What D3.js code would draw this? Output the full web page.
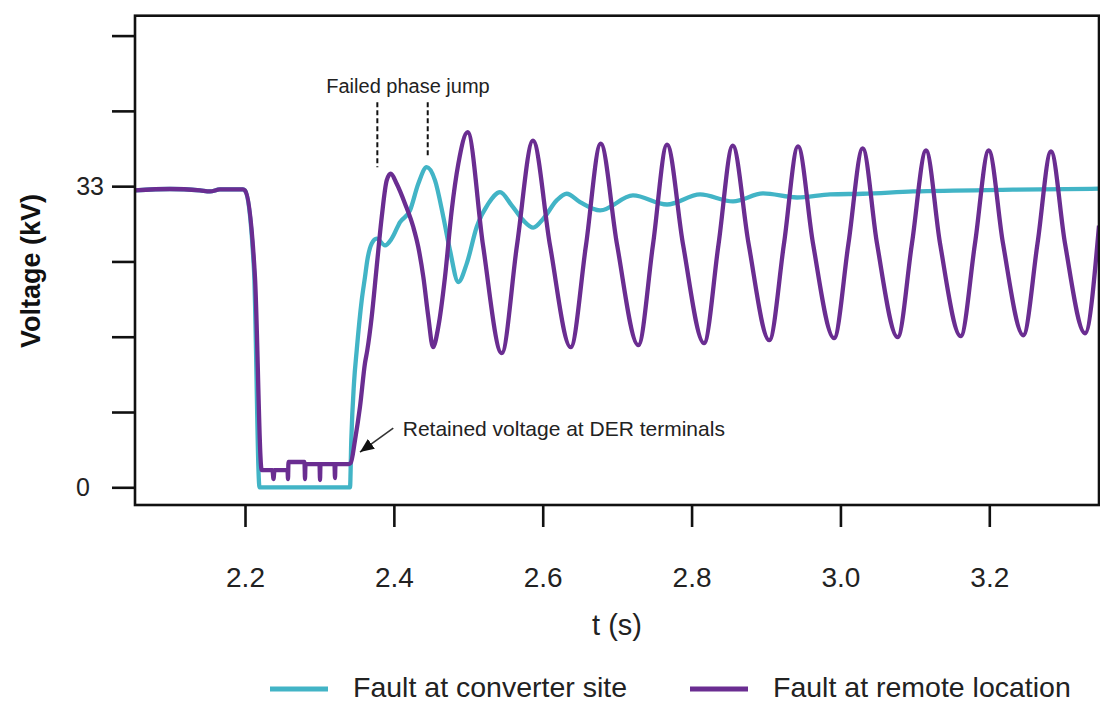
<!DOCTYPE html>
<html>
<head>
<meta charset="utf-8">
<script src="https://cdn.jsdelivr.net/npm/d3@7"></script>
<style>
body{margin:0;background:#fff;}
svg{display:block;font-family:"Liberation Sans",Arial,Helvetica,sans-serif;}
</style>
</head>
<body>
<div id="chart"></div>
<script>
// [t (s), voltage (kV)]
var converterSite=[
[2.0522,32.53],[2.0992,32.69],[2.1395,32.53],[2.1530,32.42],[2.1664,32.64],[2.1973,32.64],
[2.2000,32.53],[2.2121,23.78],[2.2195,0.00],
[2.3411,0.00],
[2.3428,5.18],[2.3464,11.37],[2.3501,15.02],[2.3568,20.49],[2.3612,23.04],[2.3643,24.87],[2.3702,26.70],[2.3769,27.25],
[2.3881,26.51],[2.3971,27.25],[2.4083,29.06],[2.4217,30.34],[2.4328,33.26],[2.4441,35.08],[2.4553,33.63],[2.4665,29.61],
[2.4754,25.97],[2.4866,22.50],[2.4979,24.51],[2.5113,28.52],[2.5269,31.08],[2.5426,32.35],[2.5583,30.89],[2.5739,29.25],
[2.5873,28.45],[2.6008,29.43],[2.6188,31.44],[2.6322,32.17],[2.6501,31.25],
[2.6770,30.34],[2.7213,31.98],[2.7670,30.99],[2.8114,32.09],[2.8557,31.33],[2.8960,32.20],[2.9417,31.76],[2.9861,32.09],
[3.0303,32.17],[3.0975,32.42],[3.2318,32.61],[3.3474,32.72]
];

var remoteLocation=[
[2.0522,32.53],[2.0992,32.69],[2.1395,32.53],[2.1530,32.42],[2.1664,32.64],[2.1973,32.64],
[2.2000,32.53],[2.2134,23.01],[2.2224,1.89],
[2.2369,1.89],[2.2383,0.91],[2.2396,1.89],
[2.2571,1.89],[2.2578,0.91],[2.2584,2.77],
[2.2799,2.77],[2.2806,0.91],[2.2813,2.55],
[2.3001,2.55],[2.3008,0.80],[2.3014,2.55],
[2.3202,2.55],[2.3209,1.02],[2.3216,2.55],
[2.3390,2.55],
[2.3420,2.66],[2.3478,5.18],[2.3545,8.82],[2.3612,13.60],[2.3643,15.02],[2.3702,18.67],[2.3769,24.14],[2.3837,29.61],[2.3904,33.63],[2.3958,34.36],
[2.4038,33.26],[2.4150,31.08],[2.4261,28.52],[2.4328,26.33],[2.4396,23.04],[2.4463,18.67],[2.4526,15.35],
[2.4597,17.57],[2.4687,23.04],[2.4777,30.34],[2.4866,35.45],[2.4992,38.91],
[2.5198,26.51],[2.5449,14.70],[2.5654,26.51],[2.5869,38.00],
[2.6098,26.51],[2.6376,15.35],[2.6581,26.51],[2.6779,37.67],
[2.6998,26.62],[2.7284,15.57],[2.7482,26.62],[2.7670,37.56],
[2.7885,26.62],[2.8167,15.79],[2.8362,26.62],[2.8553,37.45],
[2.8765,26.73],[2.9044,16.12],[2.9242,26.73],[2.9430,37.35],
[2.9631,26.73],[2.9914,16.34],[3.0108,26.73],[3.0299,37.13],
[3.0491,26.73],[3.0769,16.45],[3.0961,26.73],[3.1150,36.91],
[3.1338,26.73],[3.1616,16.56],[3.1808,26.73],[3.1992,36.91],
[3.2184,26.73],[3.2457,16.66],[3.2648,26.73],[3.2829,36.80],
[3.3017,26.73],[3.3286,16.88],[3.3474,28.68]
];

var xTicks=[2.2,2.4,2.6,2.8,3.0,3.2];
var yTicks=[0,8.25,16.5,24.75,33,41.25,49.5];
var yTickLabels=["0","","","","33","",""];
var seriesNames=["Fault at converter site","Fault at remote location"];

// annotations, in data units
var phaseJumpT=[2.3778,2.4455];
var phaseJumpTop=[42.19,42.19];
var phaseJumpBottom=[35.08,36.17];
var phaseJumpLabel={t:2.419,v:43.22,text:"Failed phase jump"};
var retainedLabel={t:2.4119,v:5.61,text:"Retained voltage at DER terminals"};
var retainedArrow={t0:2.3992,v0:6.49,t1:2.3545,v1:3.86};

//設定
var width=1100, height=703;
var plotLeft=135, plotRight=1099, plotTop=15.7, plotBottom=505;
var colors=["#42b4c6","#6a2d91"];

var main=function(){
	var svg=d3.select("#chart").append("svg").attr("width",width).attr("height",height);

	var x=d3.scaleLinear().domain([2.0522,3.3474]).range([plotLeft,plotRight]);
	var y=d3.scaleLinear().domain([-1.94,51.68]).range([plotBottom,plotTop]);

	svg.append("clipPath").attr("id","plotclip").append("rect")
		.attr("x",plotLeft).attr("y",plotTop).attr("width",plotRight-plotLeft).attr("height",plotBottom-plotTop);

	var line=d3.line()
		.x(function(d){return x(d[0]);})
		.y(function(d){return y(d[1]);})
		.curve(d3.curveMonotoneX);

	var g=svg.append("g").attr("clip-path","url(#plotclip)");
	[converterSite,remoteLocation].forEach(function(s,i){
		g.append("path").datum(s)
			.attr("d",line)
			.attr("fill","none")
			.attr("stroke",colors[i])
			.attr("stroke-width",4.3)
			.attr("stroke-linejoin","round");
	});

	//frame
	svg.append("rect").attr("x",plotLeft).attr("y",plotTop).attr("width",plotRight-plotLeft).attr("height",plotBottom-plotTop)
		.attr("fill","none").attr("stroke","#111").attr("stroke-width",2.6);

	//y axis
	var yAxis=d3.axisLeft(y).tickValues(yTicks).tickSize(23).tickPadding(8)
		.tickFormat(function(d,i){return yTickLabels[i];});
	var gy=svg.append("g").attr("transform","translate("+plotLeft+",0)").call(yAxis);
	gy.select(".domain").remove();
	gy.selectAll("line").attr("stroke","#111").attr("stroke-width",2.6);
	gy.selectAll("text").attr("font-size",25).attr("fill","#222")
		.attr("dx",function(d){return d===0?-14:0;});

	//x axis
	var xAxis=d3.axisBottom(x).tickValues(xTicks).tickSize(22).tickPadding(40).tickFormat(d3.format(".1f"));
	var gx=svg.append("g").attr("transform","translate(0,"+plotBottom+")").call(xAxis);
	gx.select(".domain").remove();
	gx.selectAll("line").attr("stroke","#111").attr("stroke-width",2.6);
	gx.selectAll("text").attr("font-size",28).attr("fill","#222");

	//axis titles
	svg.append("text").text("t (s)")
		.attr("x",(plotLeft+plotRight)/2).attr("y",635)
		.attr("text-anchor","middle").attr("font-size",29).attr("fill","#222");
	svg.append("text").text("Voltage (kV)")
		.attr("transform","translate(40,271) rotate(-90)")
		.attr("text-anchor","middle").attr("font-size",27).attr("font-weight","bold").attr("fill","#111");

	//failed phase jump
	phaseJumpT.forEach(function(t,i){
		svg.append("line")
			.attr("x1",x(t)).attr("x2",x(t))
			.attr("y1",y(phaseJumpTop[i])).attr("y2",y(phaseJumpBottom[i]))
			.attr("stroke","#111").attr("stroke-width",2).attr("stroke-dasharray","5,3");
	});
	svg.append("text").text(phaseJumpLabel.text)
		.attr("x",x(phaseJumpLabel.t)).attr("y",y(phaseJumpLabel.v))
		.attr("text-anchor","middle").attr("font-size",20).attr("fill","#222");

	//retained voltage
	svg.append("defs").append("marker").attr("id","arrow")
		.attr("markerUnits","userSpaceOnUse").attr("markerWidth",16).attr("markerHeight",12)
		.attr("refX",14).attr("refY",6).attr("orient","auto")
		.append("path").attr("d","M0,0 L14,6 L0,12 Z").attr("fill","#111");
	svg.append("line")
		.attr("x1",x(retainedArrow.t0)).attr("y1",y(retainedArrow.v0))
		.attr("x2",x(retainedArrow.t1)).attr("y2",y(retainedArrow.v1))
		.attr("stroke","#333").attr("stroke-width",1.6).attr("marker-end","url(#arrow)");
	svg.append("text").text(retainedLabel.text)
		.attr("x",x(retainedLabel.t)).attr("y",y(retainedLabel.v))
		.attr("font-size",21).attr("fill","#222");

	//legend
	var legX=[270,690];
	seriesNames.forEach(function(n,i){
		svg.append("line").attr("x1",legX[i]).attr("x2",legX[i]+58).attr("y1",689).attr("y2",689)
			.attr("stroke",colors[i]).attr("stroke-width",5);
		svg.append("text").text(n).attr("x",legX[i]+83).attr("y",697)
			.attr("font-size",28.5).attr("fill","#222");
	});
};

main();
</script>
</body>
</html>
